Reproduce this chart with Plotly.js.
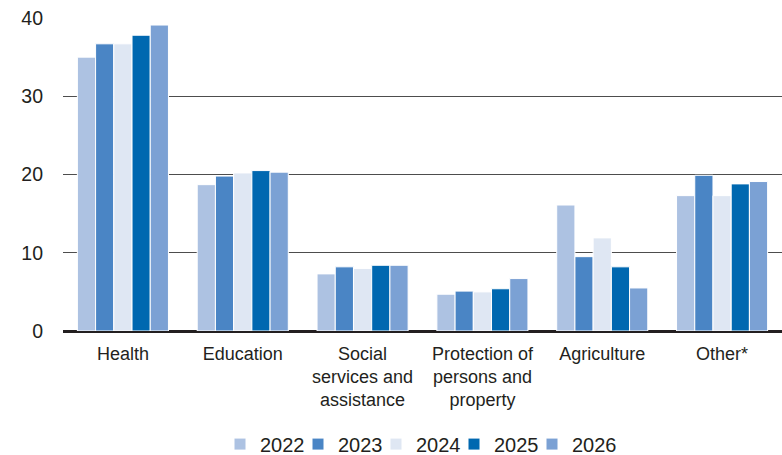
<!DOCTYPE html>
<html>
<head>
<meta charset="utf-8">
<script src="https://cdn.plot.ly/plotly-3.0.1.min.js"></script>
<style>html,body{margin:0;padding:0;background:#fff;}#chart{width:782px;height:455px;}</style>
</head>
<body>
<div id="chart"></div>
<script>
var categories = ["Health", "Education", "Social<br>services and<br>assistance", "Protection of<br>persons and<br>property", "Agriculture", "Other*"];
var years = ["2022", "2023", "2024", "2025", "2026"];
var v2022 = [35.0, 18.7, 7.3, 4.7, 16.1, 17.3];
var v2023 = [36.7, 19.8, 8.2, 5.1, 9.5, 19.9];
var v2024 = [36.7, 20.2, 8.0, 5.0, 11.9, 17.3];
var v2025 = [37.8, 20.5, 8.4, 5.4, 8.2, 18.8];
var v2026 = [39.1, 20.3, 8.4, 6.7, 5.5, 19.1];
var colors = ["#adc2e2", "#4a85c5", "#dfe7f3", "#0068b0", "#7ba1d4"];
var series = [v2022, v2023, v2024, v2025, v2026];

var traces = series.map(function (vals, i) {
  return {
    type: "bar",
    name: years[i],
    x: categories,
    y: vals,
    legendwidth: (i === series.length - 1) ? 48 : 33,
    marker: { color: colors[i], line: { color: "#ffffff", width: 1 } },
    hoverinfo: "none"
  };
});

var layout = {
  width: 782,
  height: 455,
  margin: { l: 63, r: 0, t: 18, b: 124 },
  paper_bgcolor: "#ffffff",
  plot_bgcolor: "#ffffff",
  font: { family: "Liberation Sans, Arial, sans-serif", color: "#231f20", size: 18 },
  barmode: "group",
  bargap: 0.24,
  bargroupgap: 0,
  showlegend: true,
  legend: {
    orientation: "h",
    x: 0.5, xanchor: "center",
    xref: "paper",
    yref: "container",
    y: 0.024, yanchor: "middle",
    font: { size: 20 },
    itemwidth: 30,
    traceorder: "normal"
  },
  xaxis: {
    type: "category",
    showgrid: false,
    showline: false,
    zeroline: false,
    ticks: "outside",
    ticklen: 6,
    tickcolor: "rgba(0,0,0,0)",
    tickfont: { size: 18 },
    fixedrange: true
  },
  yaxis: {
    range: [0, 40],
    tickvals: [0, 10, 20, 30, 40],
    showgrid: true,
    gridcolor: "#4d4d4d",
    gridwidth: 1,
    zeroline: true,
    zerolinecolor: "#231f20",
    zerolinewidth: 3,
    showline: false,
    ticks: "",
    ticklabelstandoff: 19,
    tickfont: { size: 19.5 },
    fixedrange: true
  }
};

Plotly.newPlot("chart", traces, layout, { displayModeBar: false, staticPlot: true });
</script>
</body>
</html>
